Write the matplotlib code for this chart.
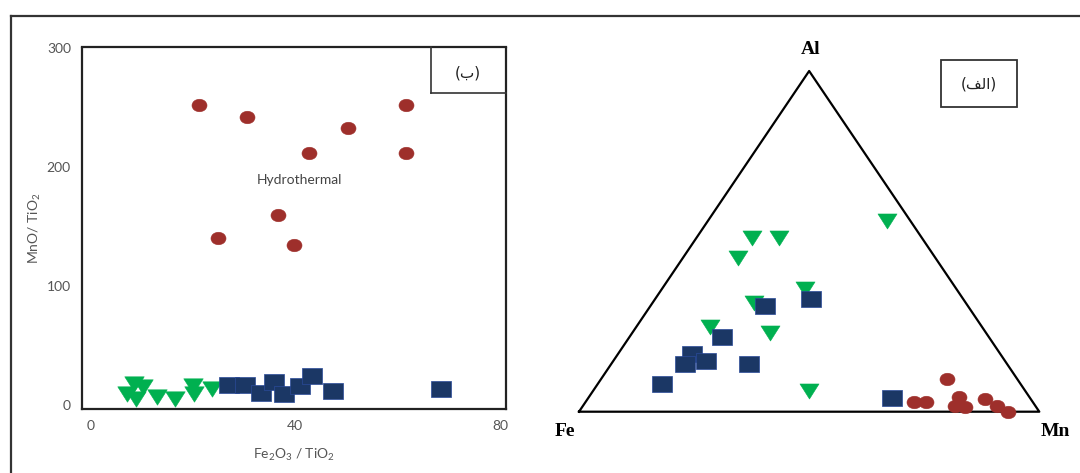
import numpy as np
import matplotlib
matplotlib.use("Agg")
import matplotlib.pyplot as plt
from matplotlib.path import Path
from matplotlib.transforms import Affine2D
from matplotlib.patches import Rectangle
from matplotlib.lines import Line2D

plt.rcParams['font.family'] = ['Lato', 'DejaVu Sans']
plt.rcParams['mathtext.default'] = 'regular'

# --- (ب) Fe2O3/TiO2 vs MnO/TiO2 ---
hydro_x = [21.3, 30.5, 61.6, 50.3, 42.6, 61.6, 36.7, 25.0, 39.7]
hydro_y = [251.7, 242, 251.7, 232.4, 211.5, 211.5, 159.1, 139.9, 134.6]
blue_x = [27.0, 30.2, 33.4, 35.9, 37.8, 40.9, 43.2, 47.4, 68.4]
blue_y = [17.2, 17.2, 10.2, 19.1, 9.3, 15.8, 24.1, 12.1, 13.5]
green_x = [7.1, 8.6, 9.0, 10.3, 13.1, 16.5, 20.1, 20.3, 23.8]
green_y = [9.3, 17.7, 5.2, 14.9, 6.6, 5.2, 16.3, 9.3, 13.5]
x_ticks = [0, 40, 80]
y_ticks = [0, 100, 200, 300]

# --- (الف) ternary Fe - Mn - Al (percent) ---
green_fe = [5, 37, 31, 43, 33, 46, 59, 47, 47]
green_mn = [39, 12, 18, 12, 31, 22, 16, 30, 47]
green_al = [56, 51, 51, 45, 36, 32, 25, 23, 6]
blue_fe = [33, 44, 58, 67, 65, 70, 56, 78, 30]
blue_mn = [34, 25, 20, 16, 20, 16, 30, 14, 66]
blue_al = [33, 31, 22, 17, 15, 14, 14, 8, 4]
red_fe = [15.2, 25.8, 23.2, 15.3, 17.4, 15.4, 10.0, 8.4, 6.7]
red_mn = [75.3, 71.3, 73.9, 80.5, 80.8, 83.1, 86.4, 89.9, 93.3]
red_al = [9.5, 2.9, 2.9, 4.2, 1.8, 1.5, 3.6, 1.7, 0.0]

c_red = '#9e2f2b'
c_blue = '#1b3765'
c_green = '#00b050'

# markers are a little wider than tall in the picture
sq_marker = Path([(-9.5, -7.5), (9.5, -7.5), (9.5, 7.5), (-9.5, 7.5), (-9.5, -7.5)], closed=True)
tri_marker = Path([(-9.5, 7.5), (9.5, 7.5), (0, -7.5), (-9.5, 7.5)], closed=True)
ell_marker = Path.unit_circle().transformed(Affine2D().scale(1.2, 1.0))


def ternary(fe, mn, al):
    fe, mn, al = np.array(fe), np.array(mn), np.array(al)
    tot = fe + mn + al
    return mn / tot + al / tot / 2, al / tot


fig = plt.figure(figsize=(10.8, 4.73), dpi=100)

# outer frame (runs off right and bottom edge)
fig.add_artist(Line2D([11/1080, 11/1080], [1 - 16/473, -0.05], color='#333333', lw=1.6))
fig.add_artist(Line2D([11/1080, 1.05], [1 - 16/473, 1 - 16/473], color='#333333', lw=1.6))

# left chart
ax = fig.add_axes([82/1080, 1 - 408.5/473, 424/1080, 361/473])
ax.plot(green_x, green_y, ls='none', marker=tri_marker, ms=14, color=c_green, mew=0.4)
ax.plot(blue_x, blue_y, ls='none', marker=sq_marker, ms=13.7, color=c_blue, mec='#2a4a9a', mew=0.5)
ax.plot(hydro_x, hydro_y, ls='none', marker=ell_marker, ms=10.8, color=c_red, mew=0.4)
ax.set_xlim(-1.6, 81.1)
ax.set_ylim(-2.8, 300)
ax.set_xticks(x_ticks)
ax.set_yticks(y_ticks)
ax.tick_params(length=0, labelsize=10, labelcolor='#555555', pad=8)
for s in ax.spines.values():
    s.set_linewidth(1.6)
    s.set_color('#222222')
ax.set_xlabel('Fe$_2$O$_3$ / TiO$_2$', fontsize=10, color='#555555', labelpad=11)
ax.set_ylabel('MnO/ TiO$_2$', fontsize=10, color='#555555', labelpad=3)
ax.text(40.8, 189, 'Hydrothermal', fontsize=10, color='#444444', ha='center', va='center')

# (ب) label box
fig.add_artist(Line2D([431/1080, 431/1080], [1 - 47.5/473, 1 - 93.3/473], color='#333333', lw=1.2))
fig.add_artist(Line2D([431/1080, 506/1080], [1 - 93.3/473, 1 - 93.3/473], color='#333333', lw=1.2))
fig.text(468/1080, 1 - 73/473, '(ب)', fontsize=11, family=['DejaVu Sans'], color='#222222',
         ha='center', va='center')

# right chart: ternary
tx = fig.add_axes([579/1080, 1 - 411.7/473, 460.3/1080, 340.7/473])
tx.set_xlim(0, 1)
tx.set_ylim(0, 1)
tx.axis('off')
tx.plot([0, 1, 0.5, 0], [0, 0, 1, 0], color='black', lw=1.6, clip_on=False)
gx, gy = ternary(green_fe, green_mn, green_al)
bx, by = ternary(blue_fe, blue_mn, blue_al)
rx, ry = ternary(red_fe, red_mn, red_al)
tx.plot(gx, gy, ls='none', marker=tri_marker, ms=13.7, color=c_green, mew=0.4, clip_on=False)
tx.plot(bx, by, ls='none', marker=sq_marker, ms=13.7, color=c_blue, mec='#2a4a9a', mew=0.5, clip_on=False)
tx.plot(rx, ry, ls='none', marker=ell_marker, ms=10.8, color=c_red, mew=0.4, clip_on=False)
tx.text(0.504, 1.062, 'Al', fontsize=14, family='Liberation Serif', weight='bold', ha='center', va='center')
tx.text(-0.03, -0.057, 'Fe', fontsize=14, family='Liberation Serif', weight='bold', ha='center', va='center')
tx.text(1.034, -0.059, 'Mn', fontsize=14, family='Liberation Serif', weight='bold', ha='center', va='center')

# (الف) label box
fig.add_artist(Rectangle((941/1080, 1 - 106.7/473), 75.7/1080, 46.7/473, fill=False,
                         ec='#333333', lw=1.3, transform=fig.transFigure))
# presentation forms so the word is joined without a shaping engine
alef_word = '(' + '\ufed2\ufedf\ufe8d' + ')'
fig.text(979/1080, 1 - 84/473, alef_word, fontsize=11, family=['DejaVu Sans'], color='#222222',
         ha='center', va='center')

fig.savefig('out.png', dpi=100)
